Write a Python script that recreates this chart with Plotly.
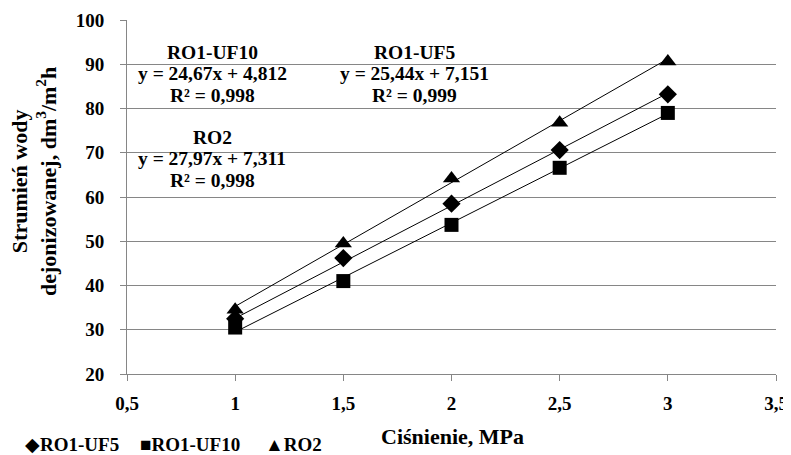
import plotly.graph_objects as go

pressure = [1, 1.5, 2, 2.5, 3]
ro1_uf5 = [32.5, 46.2, 58.5, 70.6, 83.2]
ro1_uf10 = [30.5, 41.0, 53.7, 66.6, 79.0]
ro2 = [34.5, 49.5, 64.2, 76.8, 90.6]

# trendline coefficients (slope, intercept) as printed on the chart
fit_uf5 = (25.44, 7.151)
fit_uf10 = (24.67, 4.812)
fit_ro2 = (27.97, 7.311)

series_names = ["RO1-UF5", "RO1-UF10", "RO2"]
x_ticks = [0.5, 1, 1.5, 2, 2.5, 3, 3.5]
x_tick_text = ["0,5", "1", "1,5", "2", "2,5", "3", "3,5"]
y_ticks = [20, 30, 40, 50, 60, 70, 80, 90, 100]

FONT = "Liberation Serif, Times New Roman, serif"
OFF = 8  # default page body margin
W, H = 791 - OFF, 455 - OFF
# plot area in screen pixels: left 127, right 776, top 20, bottom 374
L, R, T, B = 127 - OFF, 15, 20 - OFF, 81
PL, PT, PW, PH = 127, 20, 649, 354


def px(x):
    return (x - PL) / PW


def py(y):
    return 1 - (y - PT) / PH


fig = go.Figure()

xs = [pressure[0], pressure[-1]]
for a, b in (fit_uf5, fit_uf10, fit_ro2):
    fig.add_trace(go.Scatter(x=xs, y=[a * x + b for x in xs], mode="lines",
                             line=dict(color="black", width=1), showlegend=False,
                             hoverinfo="skip"))

fig.add_trace(go.Scatter(x=pressure, y=ro1_uf5, mode="markers", name=series_names[0],
                         marker=dict(symbol="diamond", size=14, color="black"), showlegend=False))
fig.add_trace(go.Scatter(x=pressure, y=ro1_uf10, mode="markers", name=series_names[1],
                         marker=dict(symbol="square", size=14, color="black"), showlegend=False))
fig.add_trace(go.Scatter(x=pressure, y=ro2, mode="markers", name=series_names[2],
                         marker=dict(symbol="triangle-up", size=15, color="black"), showlegend=False))

labels = [
    (212, ["RO1-UF10", "y = 24,67x + 4,812", "R² = 0,998"], 52),
    (414, ["RO1-UF5", "y = 25,44x + 7,151", "R² = 0,999"], 52),
    (212, ["RO2", "y = 27,97x + 7,311", "R² = 0,998"], 137),
]
for xc, lines, y0 in labels:
    for i, t in enumerate(lines):
        fig.add_annotation(x=px(xc), y=py(y0 + i * 21.7), xref="paper", yref="paper",
                           text="<b>%s</b>" % t, showarrow=False,
                           font=dict(family=FONT, size=19.5, color="black"),
                           xanchor="center", yanchor="middle")

# y axis title
fig.add_annotation(x=px(34), y=py(182), xref="paper", yref="paper",
                   text="<b>Strumień wody<br>dejonizowanej, dm<sup>3</sup>/m<sup>2</sup>h</b>",
                   showarrow=False, textangle=-90,
                   font=dict(family=FONT, size=22, color="black"),
                   xanchor="center", yanchor="middle")
# x axis title
fig.add_annotation(x=px(452), y=py(436), xref="paper", yref="paper",
                   text="<b>Ciśnienie, MPa</b>", showarrow=False,
                   font=dict(family=FONT, size=22, color="black"),
                   xanchor="center", yanchor="middle")

# legend row (symbol + name), bottom-left
for xl, sym, name in zip([23, 138, 263], ["◆", "■", "▲"], series_names):
    fig.add_annotation(x=px(xl), y=py(444), xref="paper", yref="paper",
                       text="%s<b>%s</b>" % (sym, name), showarrow=False,
                       font=dict(family=FONT, size=19, color="black"),
                       xanchor="left", yanchor="middle")

fig.update_layout(
    width=W, height=H,
    margin=dict(l=L, r=R, t=T, b=B, autoexpand=False),
    paper_bgcolor="white", plot_bgcolor="white",
    font=dict(family=FONT, size=19, color="black"),
    showlegend=False,
    xaxis=dict(range=[0.5, 3.5], tickvals=x_ticks,
               ticktext=["<b>%s</b>" % t for t in x_tick_text],
               showgrid=False, zeroline=False, showline=True, linecolor="#868686", linewidth=1,
               ticks="outside", ticklen=6, tickcolor="#868686", ticklabelstandoff=6),
    yaxis=dict(range=[20, 100], tickvals=y_ticks,
               ticktext=["<b>%d</b>" % v for v in y_ticks],
               showgrid=True, gridcolor="#868686", gridwidth=1, zeroline=False,
               showline=True, linecolor="#868686", linewidth=1,
               ticks="outside", ticklen=6, tickcolor="#868686", ticklabelstandoff=12),
)

fig.write_html("out.html")
